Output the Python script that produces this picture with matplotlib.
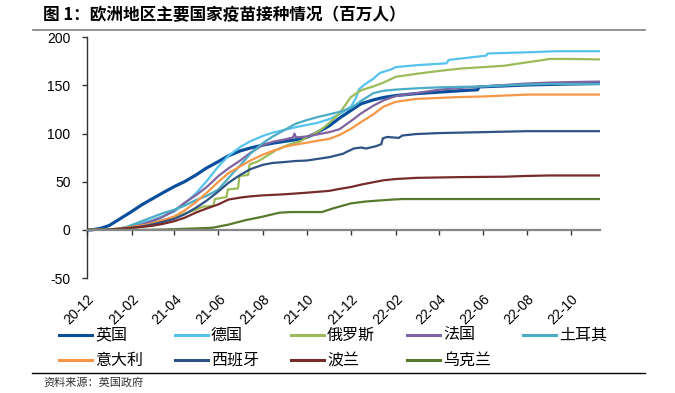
import matplotlib
matplotlib.use('Agg')
import matplotlib.pyplot as plt
import pandas as pd
from matplotlib.lines import Line2D

plt.rcParams['font.family'] = ['Liberation Sans', 'Noto Sans CJK SC', 'DejaVu Sans']

# ---------------- data (million doses) ----------------
uk_dates = ["2020-12-01", "2020-12-08", "2020-12-20", "2021-01-01", "2021-01-15", "2021-02-01", "2021-02-15",
            "2021-03-01", "2021-03-15", "2021-04-01", "2021-04-15", "2021-05-01", "2021-05-15", "2021-06-01",
            "2021-06-15", "2021-07-01", "2021-07-15", "2021-08-01", "2021-08-15", "2021-09-01", "2021-09-15",
            "2021-10-01", "2021-10-15", "2021-11-01", "2021-11-15", "2021-12-01", "2021-12-15", "2022-01-01",
            "2022-01-15", "2022-02-01", "2022-03-01", "2022-04-01", "2022-05-01", "2022-05-25", "2022-05-27",
            "2022-07-01", "2022-08-01", "2022-09-01", "2022-10-01", "2022-11-10"]
uk_vals = [0, 0, 1.5, 4.5, 11, 19, 26, 32, 38, 45, 50, 57, 64, 71, 77, 82, 85, 88, 90, 92, 93.5, 96, 101, 108,
           116, 124, 131, 135, 137.5, 139.5, 141.5, 143, 144.5, 145.5, 148.5, 149.5, 150.5, 151, 151.5, 152]

de_dates = ["2020-12-01", "2020-12-27", "2021-01-01", "2021-01-15", "2021-02-01", "2021-02-15", "2021-03-01",
            "2021-03-15", "2021-04-01", "2021-04-15", "2021-05-01", "2021-05-15", "2021-06-01", "2021-06-15",
            "2021-07-01", "2021-07-15", "2021-08-01", "2021-08-15", "2021-09-01", "2021-09-15", "2021-10-01",
            "2021-10-15", "2021-11-01", "2021-11-15", "2021-12-01", "2021-12-08", "2021-12-12", "2021-12-20",
            "2022-01-01", "2022-01-10", "2022-01-25", "2022-02-01", "2022-03-01", "2022-04-12", "2022-04-15",
            "2022-06-06", "2022-06-08", "2022-08-01", "2022-09-10", "2022-11-10"]
de_vals = [0, 0, 0.5, 1.5, 4, 7, 10, 14, 19, 27, 38, 50, 66, 77, 86, 92, 97.5, 101, 104, 106.5, 109, 111, 115,
           120, 128, 137, 146, 151, 157, 163, 166.5, 169, 171, 173, 176.5, 181, 183.2, 184.4, 185.5, 185.5]

ru_dates = ["2020-12-01", "2020-12-28", "2021-01-15", "2021-02-01", "2021-02-15", "2021-03-01", "2021-03-15",
            "2021-04-01", "2021-04-15", "2021-05-01", "2021-05-10", "2021-05-25", "2021-05-27", "2021-06-12",
            "2021-06-14", "2021-06-28", "2021-06-30", "2021-07-12", "2021-07-14", "2021-07-25", "2021-08-01",
            "2021-08-20", "2021-09-08", "2021-09-22", "2021-10-01", "2021-10-19", "2021-11-01", "2021-11-15",
            "2021-12-01", "2021-12-15", "2022-01-01", "2022-01-15", "2022-02-01", "2022-03-01", "2022-04-01",
            "2022-05-01", "2022-06-01", "2022-07-01", "2022-08-01", "2022-08-20", "2022-09-01", "2022-10-01",
            "2022-11-10"]
ru_vals = [0, 0, 1.5, 3, 5, 7.5, 10, 13, 17, 21, 24, 25, 32, 34, 42, 43, 56, 57, 68, 71, 74, 83, 89, 92, 96, 103,
           111, 121, 138, 145, 149, 153, 159, 162, 165, 167.5, 169, 170.5, 174, 176, 177.5, 177.5, 177]

fr_dates = ["2020-12-01", "2020-12-27", "2021-01-15", "2021-02-01", "2021-02-15", "2021-03-01", "2021-03-15",
            "2021-04-01", "2021-04-15", "2021-05-01", "2021-05-15", "2021-06-01", "2021-06-15", "2021-07-01",
            "2021-07-15", "2021-08-01", "2021-08-15", "2021-09-01", "2021-09-12", "2021-09-14", "2021-09-16",
            "2021-10-01", "2021-10-15", "2021-11-01", "2021-11-15", "2021-12-01", "2021-12-15", "2022-01-01",
            "2022-01-15", "2022-02-01", "2022-03-01", "2022-04-01", "2022-05-01", "2022-06-01", "2022-07-01",
            "2022-08-01", "2022-09-01", "2022-10-01", "2022-11-10"]
fr_vals = [0, 0, 1, 3, 5.5, 9, 13, 20, 28, 36, 44, 56, 64, 72, 80, 88, 91.5, 94, 96, 100, 96, 97, 99, 101.5,
           104.5, 113, 121, 129, 134.5, 139, 142, 145.5, 147.5, 149, 150.5, 152, 153, 153.5, 154]

tr_dates = ["2020-12-01", "2021-01-14", "2021-02-01", "2021-02-15", "2021-03-01", "2021-03-15", "2021-04-01",
            "2021-04-15", "2021-05-01", "2021-05-15", "2021-06-01", "2021-06-15", "2021-07-01", "2021-07-15",
            "2021-08-01", "2021-08-15", "2021-09-01", "2021-09-15", "2021-10-01", "2021-10-15", "2021-11-01",
            "2021-11-15", "2021-12-01", "2021-12-15", "2022-01-01", "2022-01-15", "2022-02-01", "2022-03-01",
            "2022-04-01", "2022-06-01", "2022-08-01", "2022-09-01", "2022-11-10"]
tr_vals = [0, 0, 5, 9, 13, 17, 21, 25, 31, 35, 42, 54, 67, 79, 90, 97, 104, 110, 114, 117, 120, 122.5, 126.5,
           134, 142, 144.5, 145.7, 147, 148, 149, 151, 151.5, 151.5]

it_dates = ["2020-12-01", "2020-12-27", "2021-01-15", "2021-02-01", "2021-02-15", "2021-03-01", "2021-03-15",
            "2021-04-01", "2021-04-15", "2021-05-01", "2021-05-15", "2021-06-01", "2021-06-15", "2021-07-01",
            "2021-07-15", "2021-08-01", "2021-08-15", "2021-09-01", "2021-09-15", "2021-10-01", "2021-10-15",
            "2021-11-01", "2021-11-15", "2021-12-01", "2021-12-15", "2022-01-01", "2022-01-15", "2022-02-01",
            "2022-03-01", "2022-04-01", "2022-05-01", "2022-06-01", "2022-07-01", "2022-08-01", "2022-11-10"]
it_vals = [0, 0, 1.5, 3, 4.5, 6.5, 9.5, 14, 20, 29, 38, 50, 59, 66, 72, 78, 82, 86.5, 88.5, 90.5, 92.5, 94.5,
           98.5, 105, 112, 120, 128, 133, 136, 137, 138, 138.5, 139.5, 140.5, 140.5]

es_dates = ["2020-12-01", "2020-12-27", "2021-01-15", "2021-02-01", "2021-02-15", "2021-03-01", "2021-03-15",
            "2021-04-01", "2021-04-15", "2021-05-01", "2021-05-15", "2021-06-01", "2021-06-15", "2021-07-01",
            "2021-07-15", "2021-08-01", "2021-08-15", "2021-09-01", "2021-09-15", "2021-10-01", "2021-11-01",
            "2021-11-20", "2021-11-25", "2021-12-01", "2021-12-05", "2021-12-15", "2021-12-22", "2022-01-05",
            "2022-01-12", "2022-01-14", "2022-01-20", "2022-02-05", "2022-02-10", "2022-03-01", "2022-04-01",
            "2022-06-01", "2022-08-01", "2022-11-10"]
es_vals = [0, 0, 1, 2, 3.5, 5.5, 8, 11.5, 16, 23, 30, 40, 49, 57, 63, 67.5, 69.5, 70.5, 71.5, 72, 75.5, 79, 81,
           83, 84.5, 85.5, 84.5, 87, 89, 95, 96.5, 95.5, 98, 99.5, 100.5, 101.5, 102.5, 102.5]

pl_dates = ["2020-12-01", "2020-12-28", "2021-01-15", "2021-02-01", "2021-02-15", "2021-03-01", "2021-03-15",
            "2021-04-01", "2021-04-15", "2021-05-01", "2021-05-15", "2021-06-01", "2021-06-15", "2021-07-01",
            "2021-07-15", "2021-08-01", "2021-09-01", "2021-10-01", "2021-11-01", "2021-11-15", "2021-12-01",
            "2021-12-15", "2022-01-01", "2022-01-15", "2022-02-01", "2022-03-01", "2022-05-01", "2022-07-01",
            "2022-08-01", "2022-09-01", "2022-11-10"]
pl_vals = [0, 0, 1, 2.2, 3, 4.2, 6, 9, 12.5, 18, 22, 26.5, 31.5, 33.5, 34.8, 35.8, 37, 38.6, 40.5, 42.5, 44.5,
           47, 49.5, 51.5, 52.8, 54, 54.8, 55.2, 56, 56.5, 56.5]

ua_dates = ["2020-12-01", "2021-02-25", "2021-04-01", "2021-05-01", "2021-05-24", "2021-06-15", "2021-07-08",
            "2021-08-01", "2021-08-24", "2021-09-08", "2021-10-22", "2021-11-07", "2021-12-01", "2021-12-22",
            "2022-01-28", "2022-02-10", "2022-11-10"]
ua_vals = [0, 0, 0.7, 1.5, 2.2, 5.5, 10, 13.7, 17.8, 18.5, 18.5, 22.5, 27.5, 29.5, 31.5, 32, 32]

series_names = ["英国", "德国", "俄罗斯", "法国", "土耳其", "意大利", "西班牙", "波兰", "乌克兰"]
series_dates = [uk_dates, de_dates, ru_dates, fr_dates, tr_dates, it_dates, es_dates, pl_dates, ua_dates]
series_vals = [uk_vals, de_vals, ru_vals, fr_vals, tr_vals, it_vals, es_vals, pl_vals, ua_vals]
series_colors = ["#0a4f9b", "#55c3ee", "#9bbb59", "#8064a2", "#4bacc6",
                 "#f79646", "#2e5283", "#772c2a", "#587a2c"]
series_lw = [2.3, 1.6, 1.6, 1.6, 1.6, 1.6, 1.6, 1.6, 1.6]

tick_dates = ["2020-12-01", "2021-02-01", "2021-04-01", "2021-06-01", "2021-08-01", "2021-10-01",
              "2021-12-01", "2022-02-01", "2022-04-01", "2022-06-01", "2022-08-01", "2022-10-01"]
tick_labels = ["20-12", "21-02", "21-04", "21-06", "21-08", "21-10",
               "21-12", "22-02", "22-04", "22-06", "22-08", "22-10"]
y_ticks = [-50, 0, 50, 100, 150, 200]

title = "图 1：欧洲地区主要国家疫苗接种情况（百万人）"
source = "资料来源：英国政府"

# ---------------- figure ----------------
W, H = 675, 393
fig = plt.figure(figsize=(W / 100, H / 100), dpi=100)
ax = fig.add_axes([86.7 / W, 1 - 278 / H, (600 - 86.7) / W, (278 - 37.3) / H])

for d, v, c, lw in zip(series_dates, series_vals, series_colors, series_lw):
    ax.plot(pd.to_datetime(d), v, color=c, lw=lw, solid_joinstyle='round')

ax.set_xlim(pd.Timestamp("2020-12-01"), pd.Timestamp("2022-11-10"))
ax.set_ylim(-50, 200)
ax.set_yticks(y_ticks)
ax.set_yticklabels([str(t) for t in y_ticks])
ax.set_xticks(pd.to_datetime(tick_dates))
ax.set_xticklabels(tick_labels)

for s in ['top', 'right']:
    ax.spines[s].set_visible(False)
ax.spines['bottom'].set_position(('data', 0))
ax.spines['bottom'].set_color('#868686')
ax.spines['bottom'].set_linewidth(1.6)
ax.spines['left'].set_color('#333333')
ax.spines['left'].set_linewidth(1.0)
ax.tick_params(axis='y', direction='out', length=3.6, width=1, color='#333333', pad=8,
               labelsize=10, labelcolor='black')
ax.tick_params(axis='x', direction='out', length=3.6, width=1, color='#333333', pad=41,
               labelsize=10, labelcolor='black', labelrotation=45)
for lbl in ax.get_xticklabels():
    lbl.set_ha('right')
    lbl.set_va('top')
    lbl.set_rotation_mode('anchor')
ax.set_facecolor('white')

# title and rules
fig.text(43 / W, 1 - 15 / H, title, fontsize=12, fontweight='bold',
         family=['Noto Sans CJK SC', 'DejaVu Sans'], ha='left', va='center')
fig.add_artist(Line2D([33 / W, 645 / W], [1 - 30 / H] * 2, color='#7f7f7f', lw=1.2))
fig.add_artist(Line2D([32 / W, 645 / W], [1 - 372.7 / H] * 2, color='black', lw=1.0))
fig.text(43 / W, 1 - 382 / H, source, fontsize=8, color='#333333',
         family=['Noto Sans CJK SC', 'DejaVu Sans'], ha='left', va='center')

# legend (manual layout: 5 columns, 2 rows)
col_x = [59, 175, 291, 407, 523]
row_y = [335, 360]
for i, (name, c, lw) in enumerate(zip(series_names, series_colors, series_lw)):
    r, k = divmod(i, 5)
    x0 = col_x[k]
    y0 = 1 - row_y[r] / H
    fig.add_artist(Line2D([x0 / W, (x0 + 33) / W], [y0, y0], color=c, lw=2.2))
    fig.text((x0 + 36) / W, y0, name, fontsize=11.5,
             family=['Noto Sans CJK SC', 'DejaVu Sans'], ha='left', va='center')

fig.savefig("out.png", dpi=100, facecolor='white')
